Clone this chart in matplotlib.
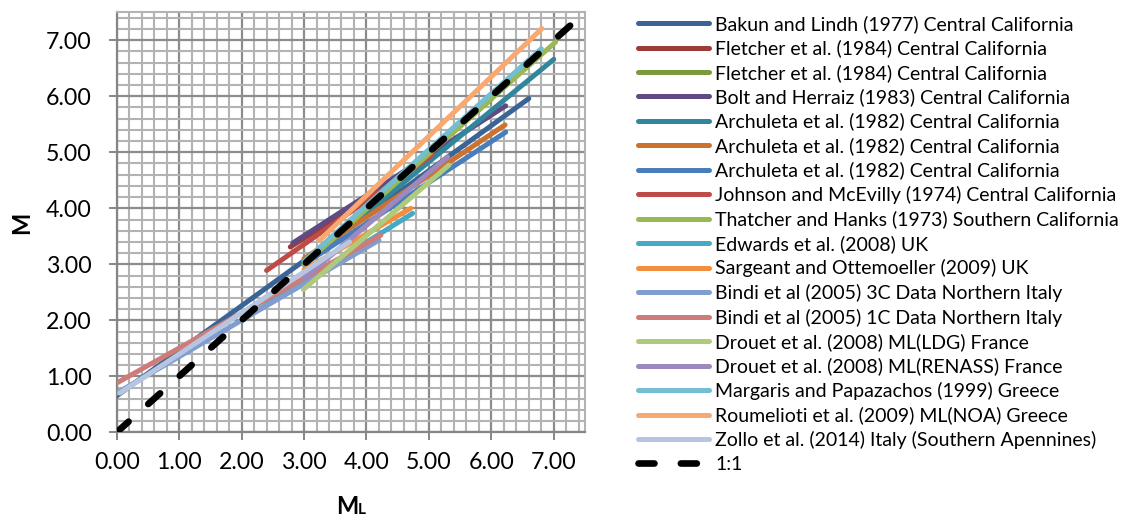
import matplotlib
matplotlib.use("Agg")
import matplotlib.pyplot as plt
import numpy as np

plt.rcParams['font.family'] = ['Lato', 'DejaVu Sans']
plt.rcParams['lines.scale_dashes'] = False

series_names = [
    "Bakun and Lindh (1977) Central California",
    "Fletcher et al. (1984) Central California",
    "Fletcher et al. (1984) Central California",
    "Bolt and Herraiz (1983) Central California",
    "Archuleta et al. (1982) Central California",
    "Archuleta et al. (1982) Central California",
    "Archuleta et al. (1982) Central California",
    "Johnson and McEvilly (1974) Central California",
    "Thatcher and Hanks (1973) Southern California",
    "Edwards et al. (2008) UK",
    "Sargeant and Ottemoeller (2009) UK",
    "Bindi et al (2005) 3C Data Northern Italy",
    "Bindi et al (2005) 1C Data Northern Italy",
    "Drouet et al. (2008) ML(LDG) France",
    "Drouet et al. (2008) ML(RENASS) France",
    "Margaris and Papazachos (1999) Greece",
    "Roumelioti et al. (2009) ML(NOA) Greece",
    "Zollo et al. (2014) Italy (Southern Apennines)",
]
ml_start = [0.00, 2.78, 3.00, 2.82, 3.00, 3.00, 3.00, 2.40, 3.00, 2.00, 3.00, 0.00, 0.00, 2.99, 3.00, 3.00, 3.25, 0.05]
ml_end   = [6.60, 4.30, 6.00, 6.23, 7.00, 6.22, 6.23, 5.05, 7.03, 4.74, 4.71, 4.20, 4.23, 5.32, 5.30, 6.80, 6.81, 3.73]
m_start  = [0.65, 3.31, 3.05, 3.38, 3.00, 3.10, 3.00, 2.89, 3.00, 2.00, 2.90, 0.70, 0.88, 2.55, 2.75, 3.05, 3.43, 0.70]
m_end    = [5.96, 4.37, 5.95, 5.83, 6.66, 5.49, 5.36, 4.95, 6.97, 3.91, 4.00, 3.43, 3.52, 4.77, 4.92, 6.85, 7.21, 3.40]
colors = ["#3B6496", "#9C3C3A", "#7A9A3D", "#5F4A84", "#31869B", "#CC7230",
          "#4A7EBB", "#BE4B48", "#98B954", "#46AAC5", "#F38E3E", "#7F9ECF",
          "#CF7B79", "#AFCA7A", "#9C89BE", "#75BDD2", "#F9A96F", "#B6C6E0"]
one_to_one = [0.0, 7.35]

W, H = 1126, 516
fig = plt.figure(figsize=(W / 100, H / 100), dpi=100)
ax = fig.add_axes([116.7 / W, 1 - 432.3 / H, (585 - 116.7) / W, (432.3 - 12.3) / H])

ax.set_xlim(0, 7.5)
ax.set_ylim(0, 7.5)
ax.set_xticks(np.arange(0, 7.01, 1.0))
ax.set_yticks(np.arange(0, 7.01, 1.0))
ax.set_xticks(np.arange(0, 7.51, 0.2), minor=True)
ax.set_yticks(np.arange(0, 7.51, 0.2), minor=True)
ax.set_xticklabels([f"{v:.2f}" for v in np.arange(0, 7.01, 1.0)])
ax.set_yticklabels([f"{v:.2f}" for v in np.arange(0, 7.01, 1.0)])
ax.grid(which='minor', color='#b3b3b3', lw=1.5, zorder=0)
ax.grid(which='major', color='#8c8c8c', lw=1.6, zorder=0)
ax.set_axisbelow(True)
ax.tick_params(which='minor', length=0)
ax.tick_params(which='major', length=6, width=1.4, color='#868686', direction='out',
               labelsize=16.7, labelcolor='black')
ax.tick_params(axis='y', pad=12)
ax.tick_params(axis='x', pad=8)
for s in ['top', 'right']:
    ax.spines[s].set_color('#b3b3b3')
    ax.spines[s].set_linewidth(1.5)
for s in ['left', 'bottom']:
    ax.spines[s].set_color('#868686')
    ax.spines[s].set_linewidth(1.6)

handles = []
for name, x0, x1, y0, y1, c in zip(series_names, ml_start, ml_end, m_start, m_end, colors):
    ln, = ax.plot([x0, x1], [y0, y1], color=c, lw=3.6, solid_capstyle='round', label=name, zorder=3)
    handles.append(ln)
ln, = ax.plot(one_to_one, one_to_one, color='black', lw=4.8, dash_capstyle='round',
              linestyle=(0, (11.5, 19.0)), label='1:1', zorder=4)
handles.append(ln)

leg = fig.legend(handles=handles, loc='upper left', bbox_to_anchor=(638 / W, 1 - 15 / H),
                 frameon=False, fontsize=14, handlelength=3.65, handletextpad=0.33,
                 labelspacing=0.335, borderpad=0, borderaxespad=0)

fig.text(21.5 / W, 1 - 223 / H, "M", rotation=90, fontsize=17, fontweight='bold',
         ha='center', va='center')
fig.text(358 / W, 1 - 514 / H, "M", fontsize=17, fontweight='bold', ha='right', va='baseline')
fig.text(358 / W, 1 - 514 / H, "L", fontsize=11, fontweight='bold', ha='left', va='baseline')

fig.savefig("out.png", dpi=100)
